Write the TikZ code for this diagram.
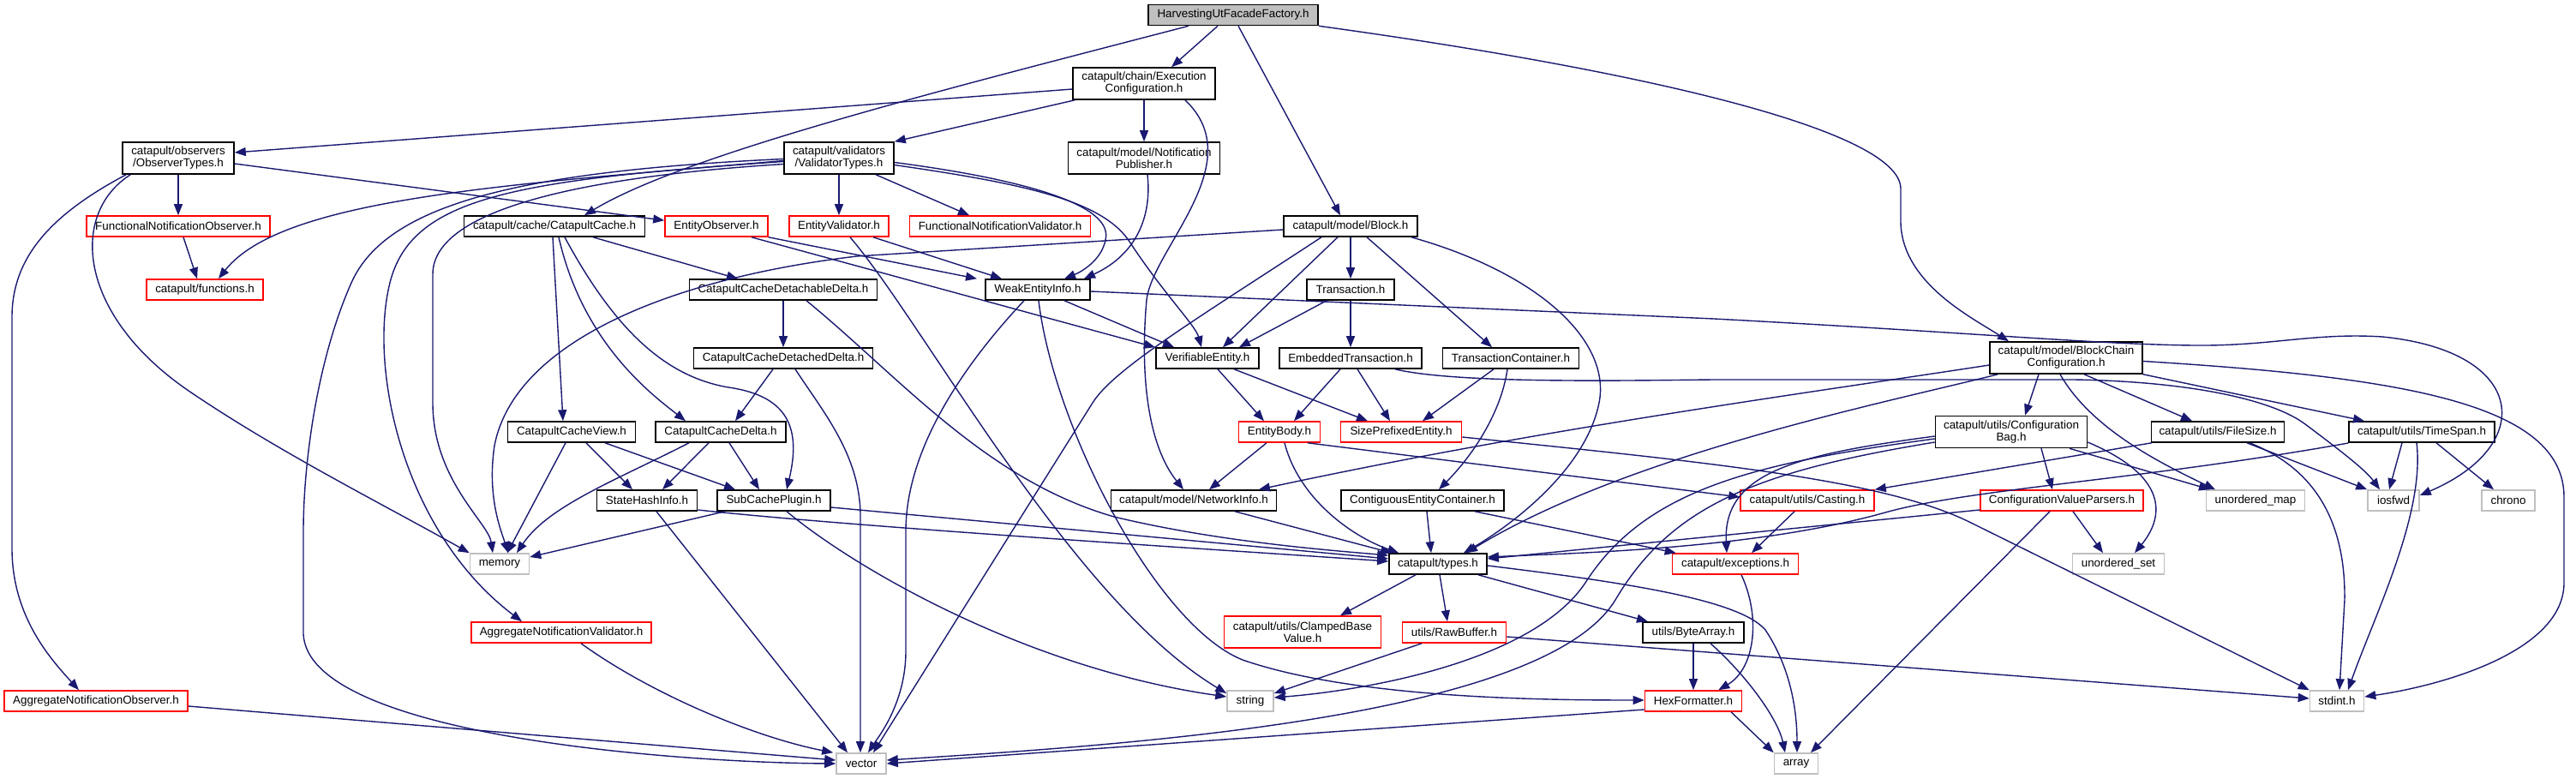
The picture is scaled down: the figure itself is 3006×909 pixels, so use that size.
\documentclass[tikz,border=0pt]{standalone}
\usepackage{fontspec}
\newfontfamily\dfont{Liberation Sans}
\usetikzlibrary{arrows.meta}
\definecolor{edgec}{HTML}{191970}
\definecolor{grayb}{HTML}{BFBFBF}
\definecolor{redb}{HTML}{FF0000}
\tikzset{
  nbase/.style={rectangle, inner sep=0pt, fill=white, line width=1.6pt, align=center,
    font={\dfont\fontsize{13.4pt}{14pt}\selectfont}, minimum height=24pt},
  nb/.style={nbase, draw=black},
  nr/.style={nbase, draw=redb},
  ng/.style={nbase, draw=grayb},
  nroot/.style={nbase, draw=black, fill=grayb},
  tall/.style={minimum height=37pt},
  e/.style={draw=edgec, line width=1.4pt, -{Triangle[length=13pt,width=10pt]}},
}
\begin{document}
\begin{tikzpicture}[x=1pt,y=-1pt]
\useasboundingbox (0,0) rectangle (3006,909);
% nodes
\node[nroot, minimum width=198pt] (root) at (1439,17.5) {HarvestingUtFacadeFactory.h};
\node[nb, tall, minimum width=166pt] (exec) at (1335,97.5) {catapult/chain/Execution\\Configuration.h};
\node[nb, tall, minimum width=130pt] (obs) at (208,184.5) {catapult/observers\\/ObserverTypes.h};
\node[nb, tall, minimum width=128pt] (val) at (979,184.5) {catapult/validators\\/ValidatorTypes.h};
\node[nb, tall, minimum width=177pt] (pub) at (1335,184.5) {catapult/model/Notification\\Publisher.h};
\node[nr, minimum width=214pt] (fno) at (208,264) {FunctionalNotificationObserver.h};
\node[nb, minimum width=211pt] (cache) at (647,264) {catapult/cache/CatapultCache.h};
\node[nr, minimum width=120pt] (eobs) at (836,264) {EntityObserver.h};
\node[nr, minimum width=116pt] (eval) at (979,264) {EntityValidator.h};
\node[nr, minimum width=211pt] (fnv) at (1167,264) {FunctionalNotificationValidator.h};
\node[nb, minimum width=156pt] (block) at (1576,264) {catapult/model/Block.h};
\node[nr, minimum width=136pt] (func) at (239,338) {catapult/functions.h};
\node[nb, minimum width=219pt] (cdd) at (914,338) {CatapultCacheDetachableDelta.h};
\node[nb, minimum width=122pt] (weak) at (1211,338) {WeakEntityInfo.h};
\node[nb, minimum width=102pt] (tx) at (1576,338) {Transaction.h};
\node[nb, minimum width=209pt] (cdetd) at (914,418) {CatapultCacheDetachedDelta.h};
\node[nb, minimum width=120pt] (ver) at (1409,418) {VerifiableEntity.h};
\node[nb, minimum width=166pt] (etx) at (1576,418) {EmbeddedTransaction.h};
\node[nb, minimum width=159pt] (txc) at (1763,418) {TransactionContainer.h};
\node[nb, tall, minimum width=178pt] (bcc) at (2411,417.5) {catapult/model/BlockChain\\Configuration.h};
\node[nb, minimum width=149pt] (cview) at (667,504) {CatapultCacheView.h};
\node[nb, minimum width=152pt] (cdelta) at (841,504) {CatapultCacheDelta.h};
\node[nr, minimum width=95pt] (ebody) at (1493,504) {EntityBody.h};
\node[nr, minimum width=141pt] (spe) at (1635,504) {SizePrefixedEntity.h};
\node[nb, tall, minimum width=177pt] (cbag) at (2347,504) {catapult/utils/Configuration\\Bag.h};
\node[nb, minimum width=155pt] (fsize) at (2588,504) {catapult/utils/FileSize.h};
\node[nb, minimum width=170pt] (tspan) at (2826,504) {catapult/utils/TimeSpan.h};
\node[nb, minimum width=117pt] (shi) at (755,584) {StateHashInfo.h};
\node[nb, minimum width=132pt] (scp) at (903,584) {SubCachePlugin.h};
\node[nb, minimum width=193pt] (ninfo) at (1393,584) {catapult/model/NetworkInfo.h};
\node[nb, minimum width=190pt] (cec) at (1660,584) {ContiguousEntityContainer.h};
\node[nr, minimum width=156pt] (cast) at (2109,584) {catapult/utils/Casting.h};
\node[nr, minimum width=190pt] (cvp) at (2406,584) {ConfigurationValueParsers.h};
\node[ng, minimum width=115pt] (umap) at (2632,584) {unordered\_map};
\node[ng, minimum width=60pt] (iosfwd) at (2793,584) {iosfwd};
\node[ng, minimum width=62pt] (chrono) at (2927,584) {chrono};
\node[ng, minimum width=69pt] (memory) at (583,658) {memory};
\node[nb, minimum width=114pt] (types) at (1678,658) {catapult/types.h};
\node[nr, minimum width=147pt] (exc) at (2025,658) {catapult/exceptions.h};
\node[ng, minimum width=107pt] (uset) at (2472,658) {unordered\_set};
\node[nr, minimum width=210pt] (anv) at (655,738) {AggregateNotificationValidator.h};
\node[nr, tall, minimum width=183pt] (cbv) at (1520,737.5) {catapult/utils/ClampedBase\\Value.h};
\node[nr, minimum width=121pt] (raw) at (1697,738) {utils/RawBuffer.h};
\node[nb, minimum width=118pt] (barr) at (1976,738) {utils/ByteArray.h};
\node[nr, minimum width=214pt] (ano) at (112,818) {AggregateNotificationObserver.h};
\node[ng, minimum width=54pt] (string) at (1459,818) {string};
\node[nr, minimum width=113pt] (hex) at (1976,818) {HexFormatter.h};
\node[ng, minimum width=63pt] (stdint) at (2727,818) {stdint.h};
\node[ng, minimum width=58pt] (vector) at (1005,891) {vector};
\node[ng, minimum width=51pt] (array) at (2096,891) {array};
% edges
\draw[e] ([xshift=-18pt]root.south) -- ([xshift=32pt]exec.north);
\draw[e] ([xshift=-52pt]root.south) .. controls (1100,105) and (800,180) .. ([xshift=35pt]cache.north);
\draw[e] ([xshift=6pt]root.south) -- ([xshift=-12pt]block.north);
\draw[e] (root.south east) .. controls (1900,80) and (2217,150) .. (2218,220) -- (2218,260) .. controls (2220,330) and (2300,370) .. ([xshift=-67pt]bcc.north);
\draw[e] ([yshift=-6.5pt]exec.west) -- ([yshift=6.5pt]obs.east);
\draw[e] ([xshift=3pt]exec.south west) -- (val.north east);
\draw[e] (exec) -- (pub);
\draw[e] ([xshift=48pt]exec.south) .. controls (1460,190) and (1345,290) .. (1338,350) .. controls (1330,440) and (1340,520) .. ([xshift=-12pt]ninfo.north);
\draw[e] (obs) -- (fno);
\draw[e] ([yshift=-6.5pt]obs.east) -- ([yshift=-6pt]eobs.north west);
\draw[e] ([xshift=5pt]obs.south west) .. controls (60,250) and (14,300) .. (14,370) -- (14,640) .. controls (14,720) and (60,770) .. ([xshift=-20pt]ano.north);
\draw[e] ([xshift=10pt]obs.south west) .. controls (80,250) and (90,370) .. (226,460) .. controls (330,530) and (450,590) .. (memory.north west);
\draw[e] ([xshift=6pt]fno.south) -- ([xshift=-9pt]func.north);
\draw[e] ([yshift=-3pt]val.west) .. controls (600,215) and (330,230) .. ([xshift=16pt]func.north);
\draw[e] (val) -- (eval);
\draw[e] ([xshift=43pt]val.south) -- ([xshift=-36pt]fnv.north);
\draw[e] ([yshift=-5pt]val.east) .. controls (1200,210) and (1300,240) .. (1290,280) .. controls (1285,305) and (1260,318) .. ([xshift=31pt]weak.north);
\draw[e] ([yshift=-8pt]val.east) .. controls (1200,215) and (1290,235) .. (1320,285) .. controls (1360,345) and (1395,380) .. ([xshift=-7pt]ver.north);
\draw[e] ([yshift=-7pt]val.west) .. controls (700,205) and (505,240) .. (505,320) -- (505,470) .. controls (505,560) and (570,610) .. ([xshift=-8pt]memory.north);
\draw[e] ([yshift=-1pt]val.west) .. controls (600,200) and (450,240) .. (410,330) .. controls (370,420) and (354,540) .. (354,620) -- (354,740) .. controls (360,860) and (800,890) .. (vector.west);
\draw[e] ([yshift=-4pt]val.west) .. controls (600,210) and (480,230) .. (455,330) .. controls (430,430) and (470,620) .. ([xshift=-46pt]anv.north);
\draw[e] ([xshift=-2pt]cache.south) -- ([xshift=-10pt]cview.north);
\draw[e] ([xshift=5pt]cache.south) .. controls (680,400) and (760,460) .. ([xshift=-41pt]cdelta.north);
\draw[e] ([xshift=12pt]cache.south) .. controls (720,390) and (780,440) .. (850,452) .. controls (920,462) and (935,500) .. ([xshift=15pt]scp.north);
\draw[e] ([xshift=45pt]cache.south) -- ([xshift=-53pt]cdd.north);
\draw[e] (eobs.south east) -- ([xshift=-71pt]weak.north);
\draw[e] ([xshift=41pt]eobs.south) -- ([xshift=-61pt]ver.north);
\draw[e] ([xshift=40pt]eval.south) -- ([xshift=-42pt]weak.north);
\draw[e] ([xshift=13pt]eval.south) .. controls (1080,380) and (1250,700) .. ([yshift=9pt]string.west);
\draw[e] ([xshift=4pt]pub.south) .. controls (1345,260) and (1320,300) .. ([xshift=54pt]weak.north);
\draw[e] ([yshift=-4pt]block.west) -- (1000,299) .. controls (780,325) and (600,400) .. (577,520) .. controls (568,580) and (585,620) .. ([xshift=10pt]memory.north);
\draw[e] (block) -- (tx);
\draw[e] ([xshift=19pt]block.south) -- ([xshift=-22pt]txc.north);
\draw[e] ([xshift=-15pt]block.south) -- ([xshift=18pt]ver.north);
\draw[e] ([xshift=-34pt]block.south) .. controls (1400,370) and (1300,430) .. (1275,470) -- ([xshift=14pt]vector.north);
\draw[e] ([xshift=71pt]block.south) .. controls (1800,320) and (1880,400) .. (1866,470) .. controls (1850,550) and (1760,615) .. ([xshift=30pt]types.north);
\draw[e] ([xshift=-28pt]tx.south) -- ([xshift=37pt]ver.north);
\draw[e] (tx) -- (etx);
\draw[e] ([xshift=31pt]weak.south) -- ([xshift=-39pt]ver.north);
\draw[e] ([xshift=-16pt]weak.south) .. controls (1130,420) and (1057,520) .. (1057,620) -- (1057,760) .. controls (1057,820) and (1025,860) .. ([xshift=8pt]vector.north);
\draw[e] ([xshift=1pt]weak.south) .. controls (1230,500) and (1350,730) .. (1450,770) .. controls (1580,815) and (1800,817) .. ([yshift=1pt]hex.west);
\draw[e] ([yshift=-2pt]weak.east) -- (2000,372) .. controls (2300,388) and (2450,402) .. (2560,403) .. controls (2650,404) and (2700,388) .. (2780,393) .. controls (2950,410) and (2960,520) .. ([yshift=6pt]iosfwd.east);
\draw[e] ([xshift=12pt]ver.south) -- ([xshift=-18pt]ebody.north);
\draw[e] ([xshift=31pt]ver.south) -- ([xshift=-39pt]spe.north);
\draw[e] ([xshift=-12pt]etx.south) -- ([xshift=17pt]ebody.north);
\draw[e] ([xshift=8pt]etx.south) -- ([xshift=-13pt]spe.north);
\draw[e] ([xshift=52pt]etx.south) .. controls (1700,448) and (1900,444) .. (2000,443) -- (2420,443) .. controls (2550,445) and (2650,465) .. (2690,495) .. controls (2730,525) and (2760,548) .. ([xshift=-16pt]iosfwd.north);
\draw[e] ([xshift=-20pt]txc.south) -- ([xshift=25pt]spe.north);
\draw[e] ([xshift=-4pt]txc.south) .. controls (1752,480) and (1720,530) .. ([xshift=19pt]cec.north);
\draw[e] (cdd) -- (cdetd);
\draw[e] ([xshift=27pt]cdd.south) .. controls (1050,440) and (1150,560) .. (1300,603) .. controls (1420,632) and (1550,642) .. ([yshift=10pt]types.west);
\draw[e] ([xshift=-12pt]cdetd.south) -- ([xshift=17pt]cdelta.north);
\draw[e] ([xshift=14pt]cdetd.south) .. controls (960,480) and (1003,530) .. (1004,600) -- ([xshift=-1pt]vector.north);
\draw[e] ([xshift=17pt]cview.south) -- ([xshift=-17pt]shi.north);
\draw[e] ([xshift=39pt]cview.south) -- ([xshift=-45pt]scp.north);
\draw[e] ([xshift=-7pt]cview.south) -- ([xshift=9pt]memory.north);
\draw[e] ([xshift=-37pt]cdelta.south) .. controls (720,560) and (640,590) .. ([xshift=20pt]memory.north);
\draw[e] ([xshift=-14pt]cdelta.south) -- ([xshift=18pt]shi.north);
\draw[e] ([xshift=10pt]cdelta.south) -- ([xshift=-17pt]scp.north);
\draw[e] ([xshift=11pt]shi.south) -- ([xshift=-16pt]vector.north);
\draw[e] ([yshift=-11pt]shi.east) .. controls (1000,615) and (1400,640) .. ([yshift=3pt]types.west);
\draw[e] ([xshift=-57pt]scp.south) -- ([yshift=8pt]memory.east);
\draw[e] ([xshift=15pt]scp.south) .. controls (1000,665) and (1200,780) .. ([yshift=5pt]string.west);
\draw[e] ([yshift=-8pt]scp.east) -- ([yshift=6pt]types.west);
\draw[e] ([xshift=-15pt]ebody.south) -- ([xshift=18pt]ninfo.north);
\draw[e] ([xshift=6pt]ebody.south) .. controls (1515,580) and (1575,625) .. ([xshift=12pt]types.north west);
\draw[e] ([xshift=33pt]ebody.south) -- ([yshift=4pt]cast.west);
\draw[e] ([yshift=-6pt]spe.east) .. controls (2000,540) and (2200,560) .. (2300,610) -- (stdint.north west);
\draw[e] ([xshift=48pt]ninfo.south) -- ([xshift=4pt]types.north west);
\draw[e] ([xshift=5pt]cec.south) -- ([xshift=-8pt]types.north);
\draw[e] ([xshift=61pt]cec.south) -- ([xshift=5pt]exc.north west);
\draw[e] ([xshift=-15pt]cast.south) -- ([xshift=19pt]exc.north);
\draw[e] ([xshift=-26pt]types.south) -- ([xshift=44pt]cbv.north);
\draw[e] ([xshift=2pt]types.south) -- ([xshift=-8pt]raw.north);
\draw[e] ([xshift=47pt]types.south) -- ([xshift=-53pt]barr.north);
\draw[e] ([yshift=-2pt]types.east) .. controls (1900,680) and (2030,700) .. (2060,735) .. controls (2090,780) and (2097,830) .. ([xshift=1pt]array.north);
\draw[e] ([xshift=-38pt]raw.south) -- ([yshift=9pt]string.east);
\draw[e] ([yshift=-5pt]raw.east) -- ([yshift=3pt]stdint.west);
\draw[e] (barr) -- (hex);
\draw[e] ([xshift=20pt]barr.south) .. controls (2040,790) and (2075,840) .. ([xshift=-13pt]array.north);
\draw[e] ([yshift=-10pt]hex.west) -- (vector.east);
\draw[e] ([xshift=44pt]hex.south) -- (array.north west);
\draw[e] ([xshift=7pt]exc.south) .. controls (2055,720) and (2048,780) .. ([xshift=-28pt]hex.north east);
\draw[e] ([yshift=-11pt]cvp.west) -- ([yshift=6pt]types.east);
\draw[e] ([xshift=13pt]cvp.south) -- ([xshift=-18pt]uset.north);
\draw[e] ([xshift=-14pt]cvp.south) -- ([xshift=17pt]array.north);
\draw[e] ([xshift=-32pt]bcc.south) -- ([xshift=16pt]cbag.north);
\draw[e] ([xshift=35pt]cbag.south) -- ([xshift=-11pt]cvp.north);
\draw[e] ([xshift=68pt]cbag.south) -- ([xshift=-53pt]umap.north);
\draw[e] ([yshift=-12pt]cbag.east) .. controls (2540,560) and (2520,610) .. ([xshift=19pt]uset.north);
\draw[e] ([yshift=-5pt]cbag.west) .. controls (2100,530) and (2010,550) .. ([xshift=-10pt]exc.north);
\draw[e] ([yshift=-8pt]cbag.west) .. controls (2050,540) and (1920,570) .. (1850,680) .. controls (1790,770) and (1600,805) .. ([yshift=4pt]string.east);
\draw[e] ([yshift=-12pt]cbag.west) .. controls (2050,550) and (1950,590) .. (1885,700) .. controls (1800,840) and (1300,870) .. ([yshift=4pt]vector.east);
\draw[e] ([xshift=-7pt]bcc.south) .. controls (2440,500) and (2520,540) .. ([xshift=-47pt]umap.north);
\draw[e] ([xshift=21pt]bcc.south) -- ([xshift=-30pt]fsize.north);
\draw[e] (bcc.south east) -- ([xshift=-67pt]tspan.north);
\draw[e] ([yshift=-4pt]bcc.east) .. controls (2800,440) and (2992,470) .. (2992,580) -- (2992,680) .. controls (2992,760) and (2850,800) .. ([yshift=5pt]stdint.east);
\draw[e] ([xshift=10pt]bcc.south west) .. controls (2200,470) and (1900,530) .. ([xshift=33pt]types.north);
\draw[e] ([yshift=-8.5pt]bcc.west) .. controls (2100,460) and (1800,500) .. ([xshift=76pt]ninfo.north);
\draw[e] ([xshift=1pt]fsize.south west) -- (cast.north east);
\draw[e] ([xshift=34pt]fsize.south) -- (iosfwd.north west);
\draw[e] ([xshift=37pt]fsize.south) .. controls (2710,550) and (2737,620) .. (2736,700) -- ([xshift=3pt]stdint.north);
\draw[e] ([xshift=-23pt]tspan.south) -- ([xshift=-5pt]iosfwd.north);
\draw[e] ([xshift=17pt]tspan.south) -- ([xshift=-17pt]chrono.north);
\draw[e] ([xshift=-6pt]tspan.south) .. controls (2830,600) and (2770,720) .. ([xshift=13pt]stdint.north);
\draw[e] ([yshift=-13pt]tspan.west) .. controls (2500,560) and (2300,570) .. (2200,598) .. controls (2050,640) and (1850,645) .. ([yshift=8pt]types.east);
\draw[e] ([yshift=-6pt]ano.east) -- ([yshift=4pt]vector.west);
\draw[e] ([xshift=23pt]anv.south) .. controls (760,810) and (880,860) .. ([xshift=-3pt]vector.north west);
\end{tikzpicture}
\end{document}
